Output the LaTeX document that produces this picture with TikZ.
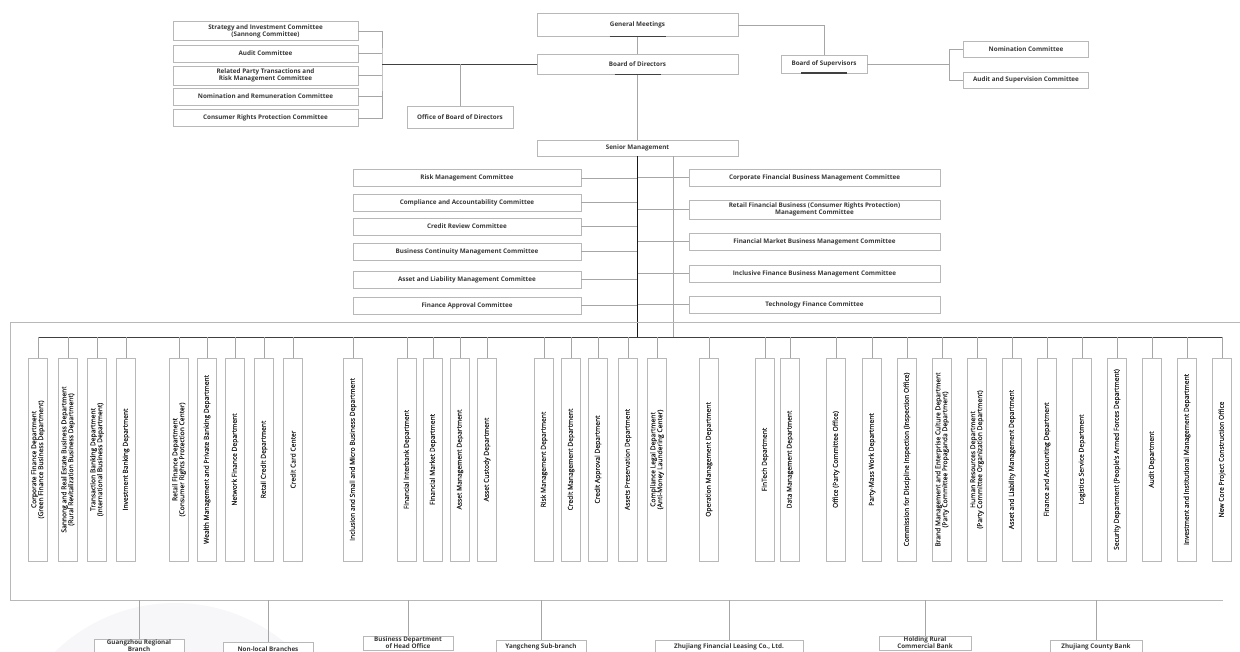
\documentclass[tikz,border=0pt]{standalone}
\usepackage{fontspec}
\setmainfont{Open Sans}
\newfontfamily\deptfont{Open Sans}[FakeBold=0.6]
\usepackage{tikz}
\usetikzlibrary{shadows}
\definecolor{boxline}{HTML}{B8B8B8}
\definecolor{txt}{HTML}{383838}
\definecolor{wirec}{HTML}{A6A6A6}
\definecolor{darkwire}{HTML}{404040}
\definecolor{wmark}{HTML}{F7F7FA}

\begin{document}
\begin{tikzpicture}[x=1pt,y=-1pt,
  org/.style={draw=boxline, fill=white, text=txt, font=\bfseries\fontsize{6.3}{7}\selectfont, align=center, inner sep=1pt, drop shadow={shadow xshift=0.9pt, shadow yshift=-0.9pt, fill=black!20}},
  dept/.style={draw=boxline, fill=white, text=black!85, font=\deptfont\fontsize{6.7}{6.9}\selectfont, align=center, inner sep=1pt, rotate=90, minimum width=203pt, minimum height=19pt, drop shadow={shadow xshift=0.9pt, shadow yshift=-0.9pt, fill=black!20}},
  wire/.style={draw=wirec, line width=0.6pt},
  bus/.style={draw=darkwire, line width=0.9pt},
  trunk/.style={draw=black!90, line width=1.8pt},
  bar/.style={draw=darkwire, line width=1.4pt}]
\useasboundingbox (0,0) rectangle (1240,652);
\clip (0,0) rectangle (1240,652);

\fill[wmark] (175,775) circle (172pt);

\node[org, minimum width=201pt, minimum height=23pt] (gm) at (637.5,25) {General Meetings};

\node[org, minimum width=201pt, minimum height=20pt] (bod) at (637.5,64.5) {Board of Directors};

\node[org, minimum width=86pt, minimum height=18pt] (bos) at (824,64) {Board of Supervisors};

\node[org, minimum width=125pt, minimum height=16pt] (nom) at (1026,49) {Nomination Committee};

\node[org, minimum width=125pt, minimum height=16pt] (aud) at (1026,80) {Audit and Supervision Committee};

\node[org, minimum width=185pt, minimum height=19pt] (s1) at (265.5,31) {Strategy and Investment Committee\\(Sannong Committee)};

\node[org, minimum width=185pt, minimum height=17pt] (s2) at (265.5,53.5) {Audit Committee};

\node[org, minimum width=185pt, minimum height=19pt] (s3) at (265.5,75.5) {Related Party Transactions and\\Risk Management Committee};

\node[org, minimum width=185pt, minimum height=17pt] (s4) at (265.5,96.5) {Nomination and Remuneration Committee};

\node[org, minimum width=185pt, minimum height=17pt] (s5) at (265.5,118) {Consumer Rights Protection Committee};

\node[org, minimum width=106pt, minimum height=22pt] (ob) at (460,117) {Office of Board of Directors};

\node[org, minimum width=201pt, minimum height=16pt] (sm) at (637.5,148) {Senior Management};

\node[org, minimum width=228pt, minimum height=17pt] (r1) at (467,178) {Risk Management Committee};

\node[org, minimum width=228pt, minimum height=17pt] (r2) at (467,202.5) {Compliance and Accountability Committee};

\node[org, minimum width=228pt, minimum height=17pt] (r3) at (467,226.5) {Credit Review Committee};

\node[org, minimum width=228pt, minimum height=17pt] (r4) at (467,251.5) {Business Continuity Management Committee};

\node[org, minimum width=228pt, minimum height=17pt] (r5) at (467,279.5) {Asset and Liability Management Committee};

\node[org, minimum width=228pt, minimum height=17pt] (r6) at (467,305.5) {Finance Approval Committee};

\node[org, minimum width=251pt, minimum height=17pt] (c1) at (814.5,177.5) {Corporate Financial Business Management Committee};

\node[org, minimum width=251pt, minimum height=19pt] (c2) at (814.5,209.5) {Retail Financial Business (Consumer Rights Protection)\\Management Committee};

\node[org, minimum width=251pt, minimum height=17pt] (c3) at (814.5,241.5) {Financial Market Business Management Committee};

\node[org, minimum width=251pt, minimum height=17pt] (c4) at (814.5,273.5) {Inclusive Finance Business Management Committee};

\node[org, minimum width=251pt, minimum height=17pt] (c5) at (814.5,304.5) {Technology Finance Committee};

\coordinate (lb) at (382,64.5);
\coordinate (rb) at (949,64);
\coordinate (hub) at (637.5,337);
\coordinate (side) at (673,337);

\draw[wire] (gm.south) -- (bod.north);
\draw[wire] (bod.south) -- (sm.north);
\draw[wire] (gm.east) -| (bos.north);
\draw[wire] (bos.east) -- (rb);
\draw[wire] (nom.west) -| (rb) |- (aud.west);
\draw[wire] (s1.east) -| (lb) |- (s5.east);
\draw[wire] (s2.east) -- (s2.east -| lb);
\draw[wire] (s3.east) -- (s3.east -| lb);
\draw[wire] (s4.east) -- (s4.east -| lb);
\draw[bus] (lb) -- (bod.west);
\draw[wire] (ob.north) -- (ob.north |- lb);

\draw[bar] ([xshift=-28pt]gm.south) -- ([xshift=28pt]gm.south);
\draw[bar] ([xshift=-23pt]bod.south) -- ([xshift=23pt]bod.south);
\draw[bar] ([xshift=-23pt]bos.south) -- ([xshift=23pt]bos.south);

\draw[wire] (side |- sm.south) -- (side);
\draw[wire] (r1.east) -- (r1.east -| hub);
\draw[wire] (r2.east) -- (r2.east -| hub);
\draw[wire] (r3.east) -- (r3.east -| hub);
\draw[wire] (r4.east) -- (r4.east -| hub);
\draw[wire] (r5.east) -- (r5.east -| hub);
\draw[wire] (r6.east) -- (r6.east -| hub);
\draw[wire] (c1.west) -- (c1.west -| hub);
\draw[wire] (c2.west) -- (c2.west -| hub);
\draw[wire] (c3.west) -- (c3.west -| hub);
\draw[wire] (c4.west) -- (c4.west -| hub);
\draw[wire] (c5.west) -- (c5.west -| hub);
\draw[trunk] (sm.south) -- (hub);

\draw[boxline] (1240,322) -- (10,322) -- (10,600) -- (1223,600);

\node[dept] (d1) at (38,459.5) {Corporate Finance Department\\(Green Finance Business Department)};
\node[dept] (d2) at (68,459.5) {Sannong and Real Estate Business Department\\(Rural Revitalization Business Department)};
\node[dept] (d3) at (97,459.5) {Transaction Banking Department\\(International Business Department)};
\node[dept] (d4) at (126,459.5) {Investment Banking Department};
\node[dept] (d5) at (179,459.5) {Retail Finance Department\\(Consumer Rights Protection Center)};
\node[dept] (d6) at (207,459.5) {Wealth Management and Private Banking Department};
\node[dept] (d7) at (235,459.5) {Network Finance Department};
\node[dept] (d8) at (264,459.5) {Retail Credit Department};
\node[dept] (d9) at (293,459.5) {Credit Card Center};
\node[dept] (d10) at (353,459.5) {Inclusion and Small and Micro Business Department};
\node[dept] (d11) at (407,459.5) {Financial Interbank Department};
\node[dept] (d12) at (433,459.5) {Financial Market Department};
\node[dept] (d13) at (460,459.5) {Asset Management Department};
\node[dept] (d14) at (487,459.5) {Asset Custody Department};
\node[dept] (d15) at (544,459.5) {Risk Management Department};
\node[dept] (d16) at (571,459.5) {Credit Management Department};
\node[dept] (d17) at (598,459.5) {Credit Approval Department};
\node[dept] (d18) at (628,459.5) {Assets Preservation Department};
\node[dept] (d19) at (657,459.5) {Compliance Legal Department\\(Anti-Money Laundering Center)};
\node[dept] (d20) at (709,459.5) {Operation Management Department};
\node[dept] (d21) at (765,459.5) {FinTech Department};
\node[dept] (d22) at (790,459.5) {Data Management Department};
\node[dept] (d23) at (836,459.5) {Office (Party Committee Office)};
\node[dept] (d24) at (872,459.5) {Party-Mass Work Department};
\node[dept] (d25) at (907,459.5) {Commission for Discipline Inspection (Inspection Office)};
\node[dept] (d26) at (942,459.5) {Brand Management and Enterprise Culture Department\\(Party Committee Propaganda Department)};
\node[dept] (d27) at (977,459.5) {Human Resources Department\\(Party Committee Organization Department)};
\node[dept] (d28) at (1012,459.5) {Asset and Liability Management Department};
\node[dept] (d29) at (1047,459.5) {Finance and Accounting Department};
\node[dept] (d30) at (1082,459.5) {Logistics Service Department};
\node[dept] (d31) at (1117,459.5) {Security Department (People's Armed Forces Department)};
\node[dept] (d32) at (1152,459.5) {Audit Department};
\node[dept] (d33) at (1187,459.5) {Investment and Institutional Management Department};
\node[dept] (d34) at (1222,459.5) {New Core Project Construction Office};

\draw[bus] (d1.east |- hub) -- (d34.east |- hub);
\draw[wire] (d1.east |- hub) -- (d1.east);
\draw[wire] (d2.east |- hub) -- (d2.east);
\draw[wire] (d3.east |- hub) -- (d3.east);
\draw[wire] (d4.east |- hub) -- (d4.east);
\draw[wire] (d5.east |- hub) -- (d5.east);
\draw[wire] (d6.east |- hub) -- (d6.east);
\draw[wire] (d7.east |- hub) -- (d7.east);
\draw[wire] (d8.east |- hub) -- (d8.east);
\draw[wire] (d9.east |- hub) -- (d9.east);
\draw[wire] (d10.east |- hub) -- (d10.east);
\draw[wire] (d11.east |- hub) -- (d11.east);
\draw[wire] (d12.east |- hub) -- (d12.east);
\draw[wire] (d13.east |- hub) -- (d13.east);
\draw[wire] (d14.east |- hub) -- (d14.east);
\draw[wire] (d15.east |- hub) -- (d15.east);
\draw[wire] (d16.east |- hub) -- (d16.east);
\draw[wire] (d17.east |- hub) -- (d17.east);
\draw[wire] (d18.east |- hub) -- (d18.east);
\draw[wire] (d19.east |- hub) -- (d19.east);
\draw[wire] (d20.east |- hub) -- (d20.east);
\draw[wire] (d21.east |- hub) -- (d21.east);
\draw[wire] (d22.east |- hub) -- (d22.east);
\draw[wire] (d23.east |- hub) -- (d23.east);
\draw[wire] (d24.east |- hub) -- (d24.east);
\draw[wire] (d25.east |- hub) -- (d25.east);
\draw[wire] (d26.east |- hub) -- (d26.east);
\draw[wire] (d27.east |- hub) -- (d27.east);
\draw[wire] (d28.east |- hub) -- (d28.east);
\draw[wire] (d29.east |- hub) -- (d29.east);
\draw[wire] (d30.east |- hub) -- (d30.east);
\draw[wire] (d31.east |- hub) -- (d31.east);
\draw[wire] (d32.east |- hub) -- (d32.east);
\draw[wire] (d33.east |- hub) -- (d33.east);
\draw[wire] (d34.east |- hub) -- (d34.east);

\node[org, anchor=north, minimum width=90pt, minimum height=13pt] (g1) at (139,639) {Guangzhou Regional\\Branch};
\node[org, anchor=north, minimum width=90pt, minimum height=13pt] (g2) at (268,642) {Non-local Branches};
\node[org, anchor=north, minimum width=90pt, minimum height=13pt] (g3) at (408,636) {Business Department\\of Head Office};
\node[org, anchor=north, minimum width=90pt, minimum height=13pt] (g4) at (541,640) {Yangcheng Sub-branch};
\node[org, anchor=north, minimum width=148pt, minimum height=13pt] (g5) at (729,640) {Zhujiang Financial Leasing Co., Ltd.};
\node[org, anchor=north, minimum width=92pt, minimum height=13pt] (g6) at (925,636) {Holding Rural\\Commercial Bank};
\node[org, anchor=north, minimum width=92pt, minimum height=13pt] (g7) at (1096,640) {Zhujiang County Bank};

\draw[wire] (g1.north |- 0,600) -- (g1.north);
\draw[wire] (g2.north |- 0,600) -- (g2.north);
\draw[wire] (g3.north |- 0,600) -- (g3.north);
\draw[wire] (g4.north |- 0,600) -- (g4.north);
\draw[wire] (g5.north |- 0,600) -- (g5.north);
\draw[wire] (g6.north |- 0,600) -- (g6.north);
\draw[wire] (g7.north |- 0,600) -- (g7.north);

\end{tikzpicture}
\end{document}
